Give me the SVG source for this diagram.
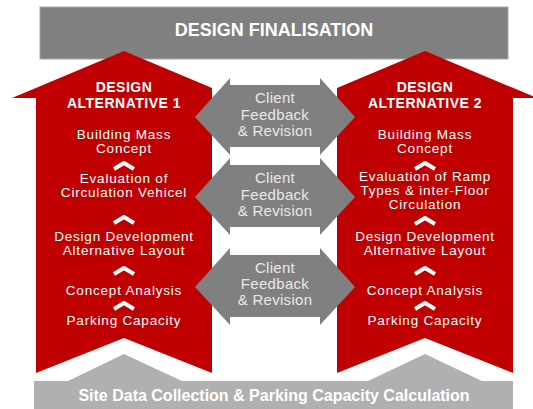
<svg xmlns="http://www.w3.org/2000/svg" width="533" height="409" viewBox="0 0 533 409">
  <style>
    .bar { fill: #808080; }
    .base { fill: #b0b0b0; }
    .red { fill: #c00000; }
    .fb { fill: #808080; }
    .head { font-family: "Liberation Sans", Arial, sans-serif; font-weight: bold; fill: #ffffff; text-anchor: middle; }
    .alt { font-size: 14px; letter-spacing: 0.5px; }
    .step { font-family: "Liberation Sans", Arial, sans-serif; font-size: 13.5px; letter-spacing: 0.8px; fill: #ffffff; text-anchor: middle; }
    .fbt { font-family: "Liberation Sans", Arial, sans-serif; font-size: 15px; letter-spacing: 0.3px; fill: #e8e8e8; text-anchor: middle; }
    .chev { fill: none; stroke: #ffffff; stroke-width: 4; stroke-linejoin: round; }
  </style>

  <!-- top bar -->
  <g id="design-finalisation">
    <rect class="bar" x="40" y="7" width="468" height="52" stroke="#a8a8a8" stroke-width="1"/>
    <text class="head" x="274" y="36" font-size="18">DESIGN FINALISATION</text>
  </g>

  <!-- bottom bar with two raised peaks -->
  <g id="site-data">
    <path class="base" d="M34 381 H68 L124 354 L182 381 H368 L425 354 L482 381 H513 V409 H34 Z"/>
    <text class="head" x="274" y="401" font-size="16">Site Data Collection &amp; Parking Capacity Calculation</text>
  </g>

  <!-- left upward arrow -->
  <g id="alternative-1">
    <polygon class="red" points="12,98 124,51 212,88 212,373 124,338 36,373 36,98"/>
    <text class="head alt" x="124" y="92">DESIGN</text>
    <text class="head alt" x="124" y="108">ALTERNATIVE 1</text>
    <text class="step" x="124" y="139">Building Mass</text>
    <text class="step" x="124" y="153">Concept</text>
    <text class="step" x="124" y="183">Evaluation of</text>
    <text class="step" x="124" y="197">Circulation Vehicel</text>
    <text class="step" x="124" y="241">Design Development</text>
    <text class="step" x="124" y="255">Alternative Layout</text>
    <text class="step" x="124" y="295">Concept Analysis</text>
    <text class="step" x="124" y="325">Parking Capacity</text>
  </g>

  <!-- right upward arrow -->
  <g id="alternative-2">
    <polygon class="red" points="537,98 425,51 337,88 337,373 425,338 513,373 513,98"/>
    <text class="head alt" x="425" y="92">DESIGN</text>
    <text class="head alt" x="425" y="108">ALTERNATIVE 2</text>
    <text class="step" x="425" y="139">Building Mass</text>
    <text class="step" x="425" y="153">Concept</text>
    <text class="step" x="425" y="181">Evaluation of Ramp</text>
    <text class="step" x="425" y="195">Types &amp; inter-Floor</text>
    <text class="step" x="425" y="209">Circulation</text>
    <text class="step" x="425" y="241">Design Development</text>
    <text class="step" x="425" y="255">Alternative Layout</text>
    <text class="step" x="425" y="295">Concept Analysis</text>
    <text class="step" x="425" y="325">Parking Capacity</text>
  </g>

  <!-- feedback double arrows -->
  <g id="feedback-1">
    <polygon class="fb" points="195,117 230,78 230,85 320,85 320,78 355,117 320,155 320,147 230,147 230,155"/>
    <text class="fbt" x="275" y="103">Client</text>
    <text class="fbt" x="275" y="120">Feedback</text>
    <text class="fbt" x="275" y="136">&amp; Revision</text>
  </g>
  <g id="feedback-2">
    <polygon class="fb" points="195,197 230,158 230,165 320,165 320,158 355,197 320,235 320,227 230,227 230,235"/>
    <text class="fbt" x="275" y="183">Client</text>
    <text class="fbt" x="275" y="200">Feedback</text>
    <text class="fbt" x="275" y="216">&amp; Revision</text>
  </g>
  <g id="feedback-3">
    <polygon class="fb" points="195,287 230,248 230,255 320,255 320,248 355,287 320,325 320,317 230,317 230,325"/>
    <text class="fbt" x="275" y="273">Client</text>
    <text class="fbt" x="275" y="289">Feedback</text>
    <text class="fbt" x="275" y="305">&amp; Revision</text>
  </g>

  <!-- step connectors (chevrons) -->
  <g id="connectors">
    <path class="chev" d="M114 169 L124 163 L134 169"/>
    <path class="chev" d="M114 223 L124 217 L134 223"/>
    <path class="chev" d="M114 274 L124 268 L134 274"/>
    <path class="chev" d="M114 309 L124 303 L134 309"/>
    <path class="chev" d="M415 169 L425 163 L435 169"/>
    <path class="chev" d="M415 224 L425 218 L435 224"/>
    <path class="chev" d="M415 274 L425 268 L435 274"/>
    <path class="chev" d="M415 309 L425 303 L435 309"/>
  </g>
</svg>
